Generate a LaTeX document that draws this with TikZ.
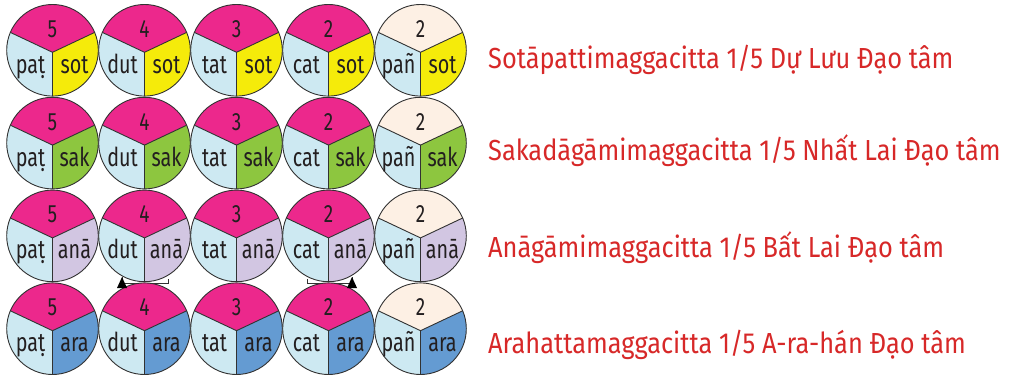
\documentclass[tikz,border=0pt]{standalone}
\usepackage{fontspec}
\setmainfont{Fira Sans}
\newfontfamily\condfont[FakeStretch=0.875]{Fira Sans}
\newfontfamily\sylfont[FakeStretch=0.76]{Fira Sans}
\definecolor{segpink}{RGB}{236,40,140}
\definecolor{segblue}{RGB}{205,233,242}
\definecolor{segyellow}{RGB}{245,235,10}
\definecolor{seggreen}{RGB}{141,198,63}
\definecolor{seglav}{RGB}{210,198,226}
\definecolor{segdeep}{RGB}{100,155,210}
\definecolor{segcream}{RGB}{253,240,228}
\definecolor{titlered}{RGB}{215,40,40}
\definecolor{ink}{RGB}{35,31,32}
\definecolor{linegray}{RGB}{50,50,50}
\newcommand\Rad{45.8pt}
\newcommand\wheel[8]{%
  \begin{scope}[shift={(#2,-#3)}]
    \coordinate (#1) at (0,0);
    \coordinate (#1-j) at (0,-2);
    \fill[#4] (#1-j) -- (157:\Rad) arc[start angle=157, end angle=23, radius=\Rad] -- cycle;
    \fill[segblue] (#1-j) -- (270:\Rad) arc[start angle=270, end angle=157, radius=\Rad] -- cycle;
    \fill[#5] (#1-j) -- (23:\Rad) arc[start angle=23, end angle=-90, radius=\Rad] -- cycle;
    \draw[wheelline] (#1-j) -- (157:\Rad) (#1-j) -- (23:\Rad) (#1-j) -- (270:\Rad);
    \draw[wheelline] (0,0) circle[radius=\Rad];
    \node[numtext] (#1-n) at (0,13) {#6};
    \node[syltext] (#1-l) at (-22,-23) {#7};
    \node[syltext] (#1-r) at (22,-23) {#8};
  \end{scope}}
\begin{document}
\begin{tikzpicture}[x=1pt,y=1pt,
  wheelline/.style={draw=linegray, line width=0.9pt},
  numtext/.style={font=\sylfont\fontsize{25}{25}\selectfont, text=ink, anchor=base, inner sep=0pt},
  syltext/.style={font=\sylfont\fontsize{26}{26}\selectfont, text=ink, anchor=base, inner sep=0pt},
  titletext/.style={font=\condfont\fontsize{29}{29}\selectfont, text=titlered, anchor=base west, inner sep=0pt},
  bracket/.style={draw=linegray, line width=0.7pt},
  tipfill/.style={fill=black}]
\useasboundingbox (0,0) rectangle (1019,-377);
% brackets under the circles
\coordinate (b1a) at (168,-279);
\coordinate (b1b) at (168,-283);
\coordinate (b1c) at (122,-283);
\coordinate (b1t) at (122,-277);
\draw[bracket] (b1a) -- (b1b) -- (b1c) -- (b1t);
\coordinate (b2a) at (307,-279);
\coordinate (b2b) at (307,-283);
\coordinate (b2c) at (352,-283);
\coordinate (b2t) at (352,-277);
\draw[bracket] (b2a) -- (b2b) -- (b2c) -- (b2t);
% wheels
\foreach \rowy/\rc/\rt [count=\r] in {50.3/segyellow/sot, 143.1/seggreen/sak, 235.9/seglav/anā, 328.7/segdeep/ara}{
  \foreach \colx/\tt/\lt/\tc [count=\c] in {52.5/5/paṭ/segpink, 144.5/4/dut/segpink, 236.5/3/tat/segpink, 328.5/2/cat/segpink, 420.5/2/pañ/segcream}{
    \wheel{w\r\c}{\colx}{\rowy}{\tc}{\rc}{\tt}{\lt}{\rt}
  }
}
% arrow heads
\fill[tipfill] (b1t) -- ++(-5,-11) -- ++(10,0) -- cycle;
\fill[tipfill] (b2t) -- ++(-5,-11) -- ++(10,0) -- cycle;
% titles
\node[titletext] (t1) at (488,-69) {Sotāpattimaggacitta 1/5 Dự Lưu Đạo tâm};
\node[titletext] (t2) at (488,-160) {Sakadāgāmimaggacitta 1/5 Nhất Lai Đạo tâm};
\node[titletext] (t3) at (488,-257) {Anāgāmimaggacitta 1/5 Bất Lai Đạo tâm};
\node[titletext] (t4) at (488,-353) {Arahattamaggacitta 1/5 A-ra-hán Đạo tâm};
\end{tikzpicture}
\end{document}
